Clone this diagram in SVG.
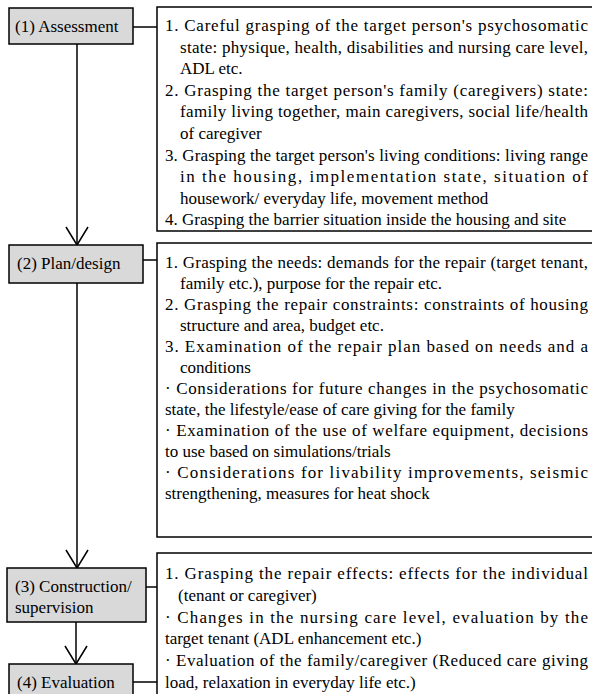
<svg xmlns="http://www.w3.org/2000/svg" width="592" height="694" viewBox="0 0 592 694">
<style>
.box{fill:#d9d9d9;stroke:#000;stroke-width:1.5}
.panel{fill:#fff;stroke:#000;stroke-width:1.5}
.ln{stroke:#000;stroke-width:1.5;fill:none}
.t{font-family:'Liberation Serif','Tinos','DejaVu Serif',serif;font-size:17px;fill:#000}
</style>
<defs>
<marker id="v" markerUnits="userSpaceOnUse" markerWidth="24" markerHeight="26" refX="20" refY="13" orient="auto" overflow="visible">
<path d="M2 2 L20 13 L2 24" fill="none" stroke="#000" stroke-width="1.5"/>
</marker>
</defs>
<rect width="592" height="694" fill="#fff"/>
<g id="connectors">
<line class="ln" x1="77" y1="44" x2="77" y2="245" marker-end="url(#v)"/>
<line class="ln" x1="77" y1="283" x2="77" y2="568" marker-end="url(#v)"/>
<line class="ln" x1="76" y1="622" x2="76" y2="664" marker-end="url(#v)"/>
<line class="ln" x1="133" y1="27" x2="157" y2="27"/>
<line class="ln" x1="143" y1="260" x2="157" y2="260"/>
<line class="ln" x1="146" y1="587" x2="157" y2="587"/>
<line class="ln" x1="133" y1="682" x2="157" y2="682"/>
</g>
<g class="t" font-family="Liberation Serif, DejaVu Serif, serif">
<g id="n1">
<rect class="box" x="9" y="8" width="124" height="36"/>
<text x="15" y="32">(1) Assessment</text>
</g>
<g id="n2">
<rect class="box" x="9" y="245" width="134" height="38"/>
<text x="17" y="269">(2) Plan/design</text>
</g>
<g id="n3">
<rect class="box" x="7" y="568" width="139" height="54"/>
<text x="15" y="592">(3) Construction/</text>
<text x="15" y="613">supervision</text>
</g>
<g id="n4">
<rect class="box" x="9" y="664" width="124" height="40"/>
<text x="17" y="688">(4) Evaluation</text>
</g>
<g id="d1">
<rect class="panel" x="157" y="7" width="450" height="224"/>
<text x="165" y="31" textLength="423" lengthAdjust="spacing">1. Careful grasping of the target person's psychosomatic</text>
<text x="180" y="52.6" textLength="408" lengthAdjust="spacing">state: physique, health, disabilities and nursing care level,</text>
<text x="180" y="74.2">ADL etc.</text>
<text x="165" y="95.8" textLength="423" lengthAdjust="spacing">2.  Grasping the target person's family (caregivers) state:</text>
<text x="180" y="117.4" textLength="408" lengthAdjust="spacing">family living together, main caregivers, social life/health</text>
<text x="180" y="139">of caregiver</text>
<text x="165" y="160.6" textLength="423" lengthAdjust="spacing">3. Grasping the target person's living conditions: living range</text>
<text x="180" y="182.2" textLength="408" lengthAdjust="spacing">in the housing, implementation state, situation of</text>
<text x="180" y="203.8">housework/ everyday life, movement method</text>
<text x="165" y="225.4">4. Grasping the barrier situation inside the housing and site</text>
</g>
<g id="d2">
<rect class="panel" x="157" y="243" width="450" height="294"/>
<text x="165" y="268" textLength="423" lengthAdjust="spacing">1. Grasping the needs: demands for the repair (target tenant,</text>
<text x="180" y="289">family etc.), purpose for the repair etc.</text>
<text x="165" y="310" textLength="423" lengthAdjust="spacing">2. Grasping the repair constraints: constraints of housing</text>
<text x="180" y="331">structure and area, budget etc.</text>
<text x="165" y="352" textLength="423" lengthAdjust="spacing">3. Examination of the repair plan based on needs and a</text>
<text x="180" y="373">conditions</text>
<text x="165" y="394" textLength="423" lengthAdjust="spacing">· Considerations for future changes in the psychosomatic</text>
<text x="165" y="415">state, the lifestyle/ease of care giving for the family</text>
<text x="165" y="436" textLength="423" lengthAdjust="spacing">· Examination of the use of welfare equipment, decisions</text>
<text x="165" y="457">to use based on simulations/trials</text>
<text x="165" y="478" textLength="423" lengthAdjust="spacing">· Considerations for livability improvements, seismic</text>
<text x="165" y="499">strengthening, measures for heat shock</text>
</g>
<g id="d3">
<rect class="panel" x="157" y="553" width="450" height="160"/>
<text x="165" y="579" textLength="423" lengthAdjust="spacing">1. Grasping the repair effects: effects for the individual</text>
<text x="178" y="601">(tenant or caregiver)</text>
<text x="165" y="623" textLength="423" lengthAdjust="spacing">· Changes in the nursing care level, evaluation by the</text>
<text x="165" y="644">target tenant (ADL enhancement etc.)</text>
<text x="165" y="666" textLength="423" lengthAdjust="spacing">· Evaluation of the family/caregiver (Reduced care giving</text>
<text x="165" y="688">load, relaxation in everyday life etc.)</text>
</g>
</g>
</svg>
